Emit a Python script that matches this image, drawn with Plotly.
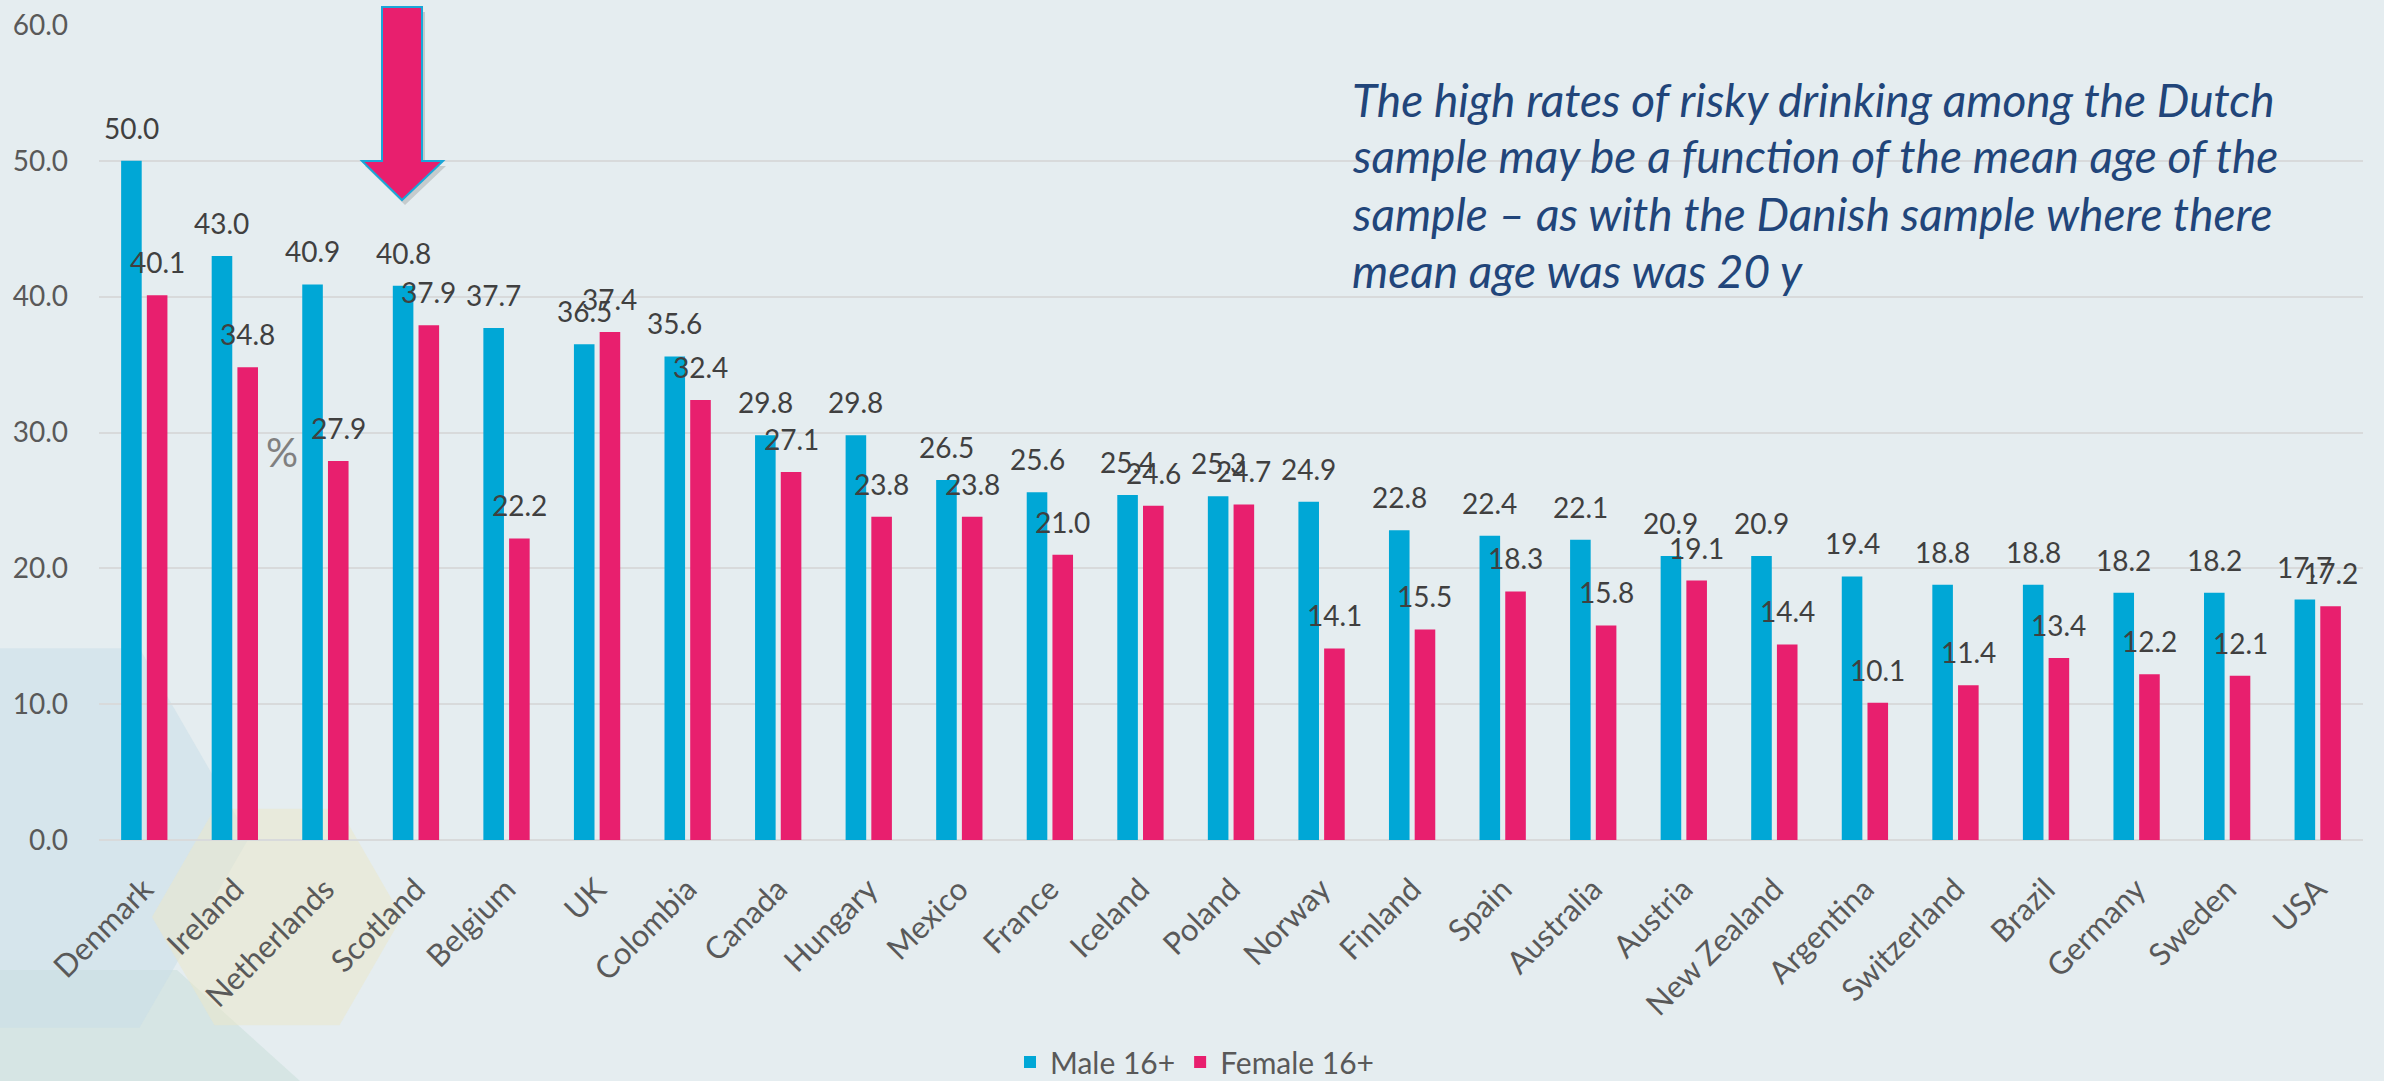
import plotly.graph_objects as go
import math

countries = ["Denmark", "Ireland", "Netherlands", "Scotland", "Belgium", "UK", "Colombia",
             "Canada", "Hungary", "Mexico", "France", "Iceland", "Poland", "Norway", "Finland",
             "Spain", "Australia", "Austria", "New Zealand", "Argentina", "Switzerland",
             "Brazil", "Germany", "Sweden", "USA"]
male = [50.0, 43.0, 40.9, 40.8, 37.7, 36.5, 35.6, 29.8, 29.8, 26.5, 25.6, 25.4, 25.3, 24.9,
        22.8, 22.4, 22.1, 20.9, 20.9, 19.4, 18.8, 18.8, 18.2, 18.2, 17.7]
female = [40.1, 34.8, 27.9, 37.9, 22.2, 37.4, 32.4, 27.1, 23.8, 23.8, 21.0, 24.6, 24.7, 14.1,
          15.5, 18.3, 15.8, 19.1, 14.4, 10.1, 11.4, 13.4, 12.2, 12.1, 17.2]
series_names = ["Male 16+", "Female 16+"]
note_lines = ["The high rates of risky drinking among the Dutch",
              "sample may be a function of the mean age of the",
              "sample \u2013 as with the Danish sample where there",
              "mean age was was 20 y"]

W, H = 2384, 1081
L, R, T, B = 99, 21, 25, 241
PW, PH = W - L - R, H - T - B

def px(x):
    return (x - L) / PW

def py(y):
    return (T + PH - y) / PH

BG = "#E5EDF0"
BLUE = "#00A7D6"
PINK = "#E81F6E"
FONT = "Lato"

fig = go.Figure()
fig.add_trace(go.Bar(name=series_names[0], x=countries, y=male, marker_color=BLUE,
                     marker_line_width=0))
fig.add_trace(go.Bar(name=series_names[1], x=countries, y=female, marker_color=PINK,
                     marker_line_width=0))

# data labels
off = 0.142
annotations = []
for i, (m, f) in enumerate(zip(male, female)):
    for val, dx in ((m, -off), (f, off)):
        annotations.append(dict(x=i + dx, y=val, xref="x", yref="y", text=f"{val:.1f}",
                                showarrow=False, xanchor="center", yanchor="middle", yshift=33,
                                font=dict(family=FONT, size=28, color="#404040")))

for k, line in enumerate(note_lines):
    annotations.append(dict(x=px(1350), y=py(99 + 57 * k), xref="paper", yref="paper",
                            xanchor="left", yanchor="middle", align="left", showarrow=False,
                            text="<i>" + line + "</i>",
                            font=dict(family=FONT, size=46, color="#21457A")))
annotations.append(dict(x=px(282), y=py(452), xref="paper", yref="paper", text="%",
                        xanchor="center", yanchor="middle", showarrow=False,
                        font=dict(family=FONT, size=40, color="#808080")))

def hexagon(cx, cy, r):
    pts = []
    for k in range(6):
        a = math.radians(60 * k)
        pts.append((px(cx + r * math.cos(a)), py(cy + r * math.sin(a))))
    return "M " + " L ".join(f"{x:.5f},{y:.5f}" for x, y in pts) + " Z"

def poly(points):
    return "M " + " L ".join(f"{px(x):.5f},{py(y):.5f}" for x, y in points) + " Z"

shapes = [
    dict(type="path", xref="paper", yref="paper", layer="below",
         path=poly([(-10, 970), (177, 970), (310, 1090), (-10, 1090)]),
         fillcolor="rgba(196,220,212,0.45)", line_width=0),
    dict(type="path", xref="paper", yref="paper", layer="below", path=hexagon(30, 838, 219),
         fillcolor="rgba(200,222,232,0.5)", line_width=0),
    dict(type="path", xref="paper", yref="paper", layer="below", path=hexagon(277, 917, 125),
         fillcolor="rgba(236,232,200,0.5)", line_width=0),
]

arrow = [(382, 7), (422, 7), (422, 161), (443, 161), (402, 200), (362, 161), (382, 161)]
shadow = [(x + 3, y + 5) for x, y in arrow]
shapes.append(dict(type="path", xref="paper", yref="paper", layer="above", path=poly(shadow),
                   fillcolor="rgba(80,80,80,0.22)", line_width=0))
shapes.append(dict(type="path", xref="paper", yref="paper", layer="above", path=poly(arrow),
                   fillcolor=PINK, line=dict(color="#1AA6D8", width=2)))

fig.update_layout(
    width=W, height=H,
    margin=dict(l=L, r=R, t=T, b=B, pad=0, autoexpand=False),
    paper_bgcolor=BG, plot_bgcolor="rgba(0,0,0,0)",
    barmode="group", bargap=0.432, bargroupgap=0.2,
    font=dict(family=FONT, size=28, color="#595959"),
    showlegend=True,
    legend=dict(orientation="h", x=px(1195), xanchor="center", y=py(1062), yanchor="middle",
                font=dict(family=FONT, size=30, color="#595959"), bgcolor="rgba(0,0,0,0)",
                itemwidth=30),
    annotations=annotations,
    shapes=shapes,
)
fig.update_xaxes(type="category", tickangle=-45, showgrid=False, showline=False, ticks="",
                 automargin=False, ticklabelstandoff=24,
                 tickfont=dict(family=FONT, size=31, color="#595959"))
fig.update_yaxes(range=[0, 60], dtick=10, tickformat=".1f", showgrid=True, gridcolor="#D8DADB",
                 gridwidth=2, zeroline=True, zerolinecolor="#D8DADB", zerolinewidth=2,
                 showline=False, ticks="", ticklabelstandoff=30, automargin=False,
                 tickfont=dict(family=FONT, size=28, color="#595959"))

fig.write_html("out.html", config={"displayModeBar": False},
               post_script="document.body.style.margin='0';document.body.style.overflow='hidden';")
